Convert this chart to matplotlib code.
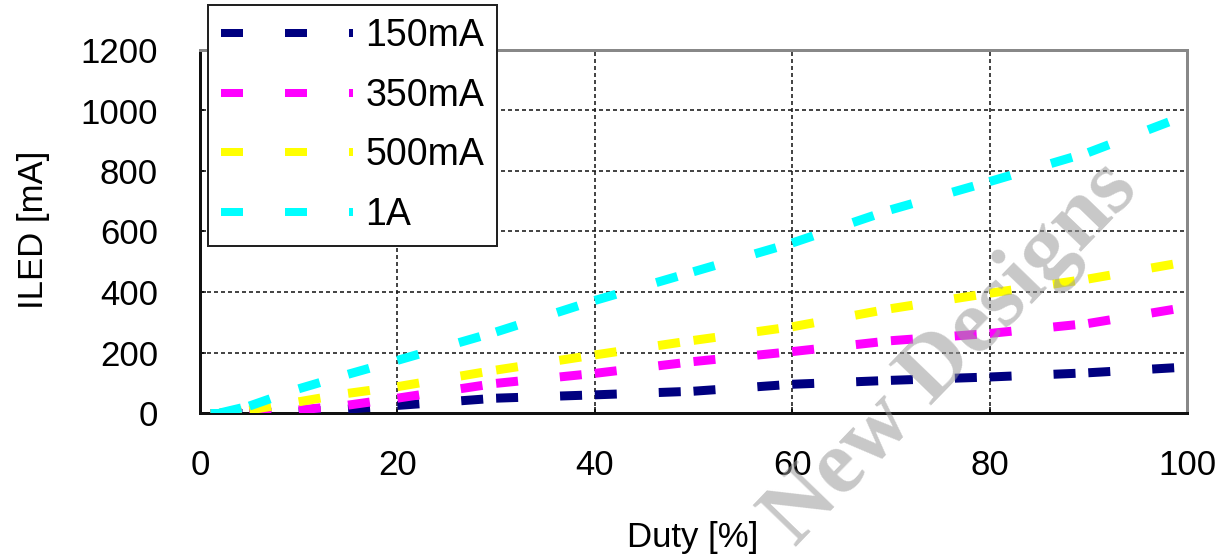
import matplotlib
matplotlib.use("Agg")
import matplotlib.pyplot as plt
from matplotlib.lines import Line2D

# Duty sweep points [%]
duty = [1, 2, 5, 10, 15, 20, 30, 40, 50, 60, 70, 80, 90, 100]

# Measured LED current [mA] for each programmed current setting
i_150ma = [0, 0, 0, 4, 13, 25, 49, 60, 72, 95, 108, 119, 133, 152]
i_350ma = [0, 0, 2, 10, 26, 49, 98, 131, 170, 203, 239, 263, 296, 350]
i_500ma = [0, 0, 10, 37, 65, 87, 142, 192, 240, 285, 345, 396, 443, 500]
i_1a = [0, 0, 23, 80, 128, 174, 268, 372, 467, 562, 672, 765, 861, 985]

series_labels = ["150mA", "350mA", "500mA", "1A"]
series_colors = ["#000080", "#FF00FF", "#FFFF00", "#00FFFF"]

x_ticks = [0, 20, 40, 60, 80, 100]
y_ticks = [0, 200, 400, 600, 800, 1000, 1200]

plt.rcParams["font.family"] = ["Liberation Sans", "DejaVu Sans"]
plt.rcParams["lines.scale_dashes"] = False

W, H = 1231, 560
fig = plt.figure(figsize=(W / 100, H / 100), dpi=100)
ax = fig.add_axes([200 / W, 1 - 413 / H, 987 / W, 363 / H])

PX = 72 / 100  # points per pixel
line_w = 9 * PX
dash_pat = (22 * PX, 42 * PX)

# each segment restarts its dash pattern at the data point
all_series = [i_150ma, i_350ma, i_500ma, i_1a]
for vals, col in zip(all_series, series_colors):
    for k in range(len(duty) - 1):
        ax.plot(duty[k:k + 2], vals[k:k + 2], color=col, lw=line_w,
                dashes=dash_pat, dash_capstyle="butt", zorder=3)

ax.set_xlim(0, 100)
ax.set_ylim(0, 1200)
ax.set_xticks(x_ticks)
ax.set_yticks(y_ticks)
ax.set_xticklabels([str(v) for v in x_ticks])
ax.set_yticklabels([str(v) for v in y_ticks])
ax.tick_params(axis="both", direction="in", length=6 * PX, width=1.5 * PX,
               labelsize=25, colors="black")
ax.tick_params(axis="x", pad=36 * PX)
ax.tick_params(axis="y", pad=42 * PX)

ax.grid(True, color="#1a1a1a", lw=1.6 * PX, dashes=(4 * PX, 3 * PX))
ax.set_axisbelow(True)

for side in ("left", "bottom"):
    ax.spines[side].set_color("#111111")
    ax.spines[side].set_linewidth(3 * PX)
for side in ("top", "right"):
    ax.spines[side].set_color("#888888")
    ax.spines[side].set_linewidth(3 * PX)

fig.text(33 / W, 1 - 230 / H, "ILED [mA]", rotation=90, fontsize=25,
         ha="center", va="center")
fig.text(693 / W, 1 - 537 / H, "Duty [%]", fontsize=25,
         ha="center", va="center")

handles = [Line2D([0], [0], color=c, lw=8 * PX, dashes=dash_pat,
                  dash_capstyle="butt") for c in series_colors]
leg = fig.legend(handles, series_labels, loc="upper left",
                 bbox_to_anchor=(208 / W, 1 - 5 / H),
                 bbox_transform=fig.transFigure, fontsize=27,
                 frameon=True, fancybox=False, edgecolor="#222222",
                 framealpha=1, borderaxespad=0, borderpad=0.35,
                 handlelength=3.52, handletextpad=0.32, labelspacing=0.63)
leg.get_frame().set_linewidth(2 * PX)
leg.set_zorder(5)

# watermark
fig.text(795 / W, 1 - 548 / H, "New Designs", fontsize=66,
         family=["Liberation Serif"], weight="bold", color="#9a9a9a",
         alpha=0.55, rotation=46, rotation_mode="anchor",
         ha="left", va="baseline", zorder=10)

fig.savefig("out.png", dpi=100)
